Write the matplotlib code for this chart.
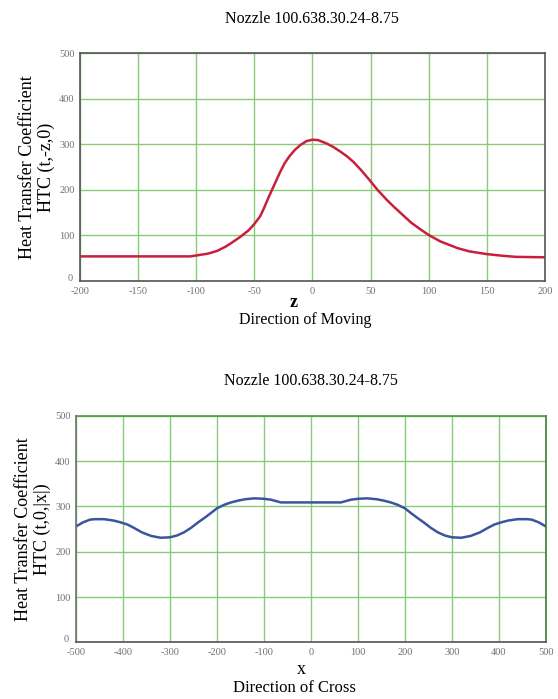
import matplotlib
matplotlib.use("Agg")
from matplotlib import pyplot as plt

plt.rcParams['font.family'] = ['Liberation Serif', 'DejaVu Serif']

title = "Nozzle 100.638.30.24-8.75"

# top chart: HTC along direction of moving
z_vals = [-200, -150, -105, -100, -90, -82, -75, -70, -62, -55, -50, -45, -42,
          -38, -33, -28, -24, -20, -15, -10, -5, 0, 5, 12, 18, 24, 30, 35, 42,
          49, 56, 64, 70, 76, 85, 92, 100, 110, 120, 125, 135, 150, 165, 175, 200]
htc_z = [54, 54, 54, 56, 60, 66, 75, 83, 97, 111, 125, 142, 158,
         182, 210, 238, 258, 273, 288, 299, 307, 310, 309, 302, 294, 284, 273, 262, 243,
         222, 200, 178, 163, 149, 128, 115, 101, 87, 77, 72, 65, 59, 55, 53, 52]
z_ticks = [-200, -150, -100, -50, 0, 50, 100, 150, 200]

# bottom chart: HTC along direction of cross
x_vals = [-500, -485, -470, -460, -440, -420, -405, -390, -377, -360, -340, -320,
          -300, -285, -270, -255, -240, -225, -211, -200, -184, -170, -155, -140,
          -120, -100, -85, -64, -40, 0, 40, 64, 85, 100, 120, 140, 155, 170, 184,
          200, 211, 225, 240, 255, 270, 285, 300, 320, 340, 360, 377, 390, 405,
          420, 440, 460, 470, 485, 500]
htc_x = [256, 265, 271, 272, 272, 269, 265, 260, 253, 243, 235, 231,
         232, 236, 243, 253, 265, 276, 287, 296, 304, 309, 313, 316,
         318, 317, 315, 309, 309, 309, 309, 309, 315, 317, 318, 316, 313, 309, 304,
         296, 287, 276, 265, 253, 243, 236, 232, 231, 235, 243, 253, 260, 265,
         269, 272, 272, 271, 265, 256]
x_ticks = [-500, -400, -300, -200, -100, 0, 100, 200, 300, 400, 500]

y_ticks = [0, 100, 200, 300, 400, 500]

grid_green = '#8cc97a'
tick_gray = '#707070'


def style_axes(ax, xt, xlim, spine_colors):
    ax.set_xlim(*xlim)
    ax.set_ylim(0, 500)
    ax.set_xticks(xt)
    ax.set_yticks(y_ticks)
    ax.set_xticklabels([str(t) for t in xt])
    ax.set_yticklabels([''] + [str(t) for t in y_ticks[1:]])
    ax.grid(True, color=grid_green, linewidth=1.0)
    ax.tick_params(length=0, labelsize=7.5, labelcolor=tick_gray, pad=4)
    for side, c in spine_colors.items():
        ax.spines[side].set_color(c)
        ax.spines[side].set_linewidth(1.2)
    # corner "0" sits up and left of the axes origin
    ax.text(-0.015, 0.012, '0', transform=ax.transAxes, ha='right', va='center',
            fontsize=7.5, color=tick_gray)


fig = plt.figure(figsize=(5.58, 6.99), dpi=100)

ax1 = fig.add_axes([0.1434, 0.598, 0.833, 0.326])
ax1.plot(z_vals, htc_z, color='#c8203c', linewidth=1.8)
style_axes(ax1, z_ticks, (-200, 200),
           {'left': '#555555', 'bottom': '#555555', 'top': '#555555', 'right': '#555555'})
ax1.set_title(title, fontsize=11.5, pad=22)
ax1.set_ylabel("Heat Transfer Coefficient\nHTC (t,-z,0)", fontsize=13, labelpad=3,
               linespacing=1.1)
ax1.text(0.46, -0.095, 'z', transform=ax1.transAxes, ha='center', va='center',
         fontsize=13, fontweight='bold')
ax1.text(0.485, -0.172, 'Direction of Moving', transform=ax1.transAxes, ha='center',
         va='center', fontsize=11.5)

ax2 = fig.add_axes([0.1362, 0.081, 0.842, 0.324])
ax2.plot(x_vals, htc_x, color='#3a55a0', linewidth=1.8)
style_axes(ax2, x_ticks, (-500, 500),
           {'left': '#707070', 'bottom': '#555555', 'top': '#4f9a3c', 'right': '#3f7a33'})
ax2.set_title(title, fontsize=11.5, pad=22)
ax2.set_ylabel("Heat Transfer Coefficient\nHTC (t,0,|x|)", fontsize=13, labelpad=3,
               linespacing=1.1)
ax2.text(0.48, -0.12, 'x', transform=ax2.transAxes, ha='center', va='center',
         fontsize=13)
ax2.text(0.465, -0.2, 'Direction of Cross', transform=ax2.transAxes, ha='center',
         va='center', fontsize=12)

fig.savefig('out.png', dpi=100)
